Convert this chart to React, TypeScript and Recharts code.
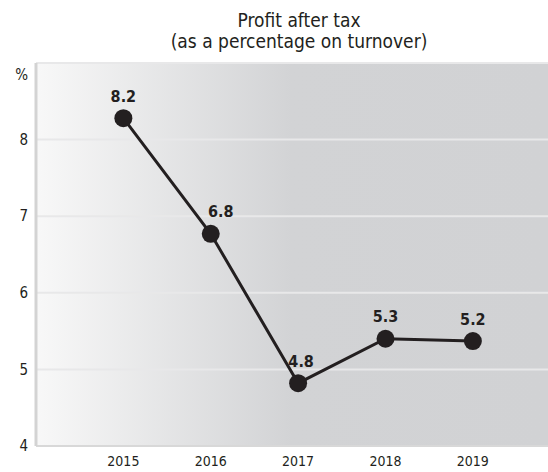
import React from 'react';
import { LineChart, Line, XAxis, YAxis, CartesianGrid } from 'recharts';

// Values as plotted and the printed labels
const years = [2015, 2016, 2017, 2018, 2019];
const profit = [8.28, 6.77, 4.82, 5.4, 5.37];
const profitLabels = ['8.2', '6.8', '4.8', '5.3', '5.2'];
const yTicks = [4, 5, 6, 7, 8, 9];

const INK = '#231f20';
const FONT = "'Liberation Sans Narrow', 'Arial Narrow', 'DejaVu Sans Condensed', sans-serif";

const data = years.map((year, i) => ({ year, value: profit[i] }));

const YTick = (props: any) => {
  const { x, y, payload } = props;
  const isTop = payload.value === 9;
  return (
    <text x={x} y={y + (isTop ? 12 : 0)} dy="0.35em" textAnchor="end" fill={INK} fontSize={15} fontFamily={FONT}>
      {isTop ? '%' : payload.value}
    </text>
  );
};

const XTick = (props: any) => {
  const { x, y, payload } = props;
  return (
    <text x={x} y={y + 14} textAnchor="middle" fill={INK} fontSize={14} fontFamily={FONT}>
      {payload.value}
    </text>
  );
};

const PointLabel = (props: any) => {
  const { x, y, index } = props;
  // the 2016 label sits a little to the right of its dot
  const dx = index === 1 ? 10 : index === 2 ? 3 : 0;
  return (
    <text x={x + dx} y={y - 22} dy="0.35em" textAnchor="middle" fill={INK} fontSize={16} fontWeight="bold" fontFamily={FONT}>
      {profitLabels[index]}
    </text>
  );
};

export default function App() {
  return (
    <div style={{ position: 'relative', width: 548, height: 472, background: '#fff' }}>
      <style>{`body { margin: 0; }`}</style>
      <div
        style={{
          position: 'absolute',
          top: 10,
          left: 36,
          width: 526,
          textAlign: 'center',
          fontFamily: FONT,
          fontSize: 19,
          lineHeight: '21px',
          color: INK,
        }}
      >
        Profit after tax
        <br />
        (as a percentage on turnover)
      </div>
      <LineChart width={548} height={472} data={data} margin={{ top: 63, right: 0, bottom: 0, left: 0 }}>
        <defs>
          <linearGradient id="plotBg" x1="0" y1="0" x2="1" y2="0">
            <stop offset="0%" stopColor="#f8f8f8" />
            <stop offset="50%" stopColor="#d2d3d5" />
            <stop offset="100%" stopColor="#d1d2d4" />
          </linearGradient>
        </defs>
        <CartesianGrid vertical={false} fill="url(#plotBg)" stroke="#e8e8e9" strokeWidth={2} />
        <XAxis
          dataKey="year"
          type="number"
          domain={[2014, 2019.86]}
          ticks={years}
          height={26}
          tickLine={false}
          axisLine={{ stroke: '#d8d8d8', strokeWidth: 2 }}
          tick={<XTick />}
          tickMargin={0}
        />
        <YAxis
          type="number"
          domain={[4, 9]}
          ticks={yTicks}
          width={36}
          tickLine={false}
          axisLine={{ stroke: '#d3d3d3', strokeWidth: 3 }}
          tick={<YTick />}
          interval={0}
        />
        <Line
          type="linear"
          dataKey="value"
          stroke={INK}
          strokeWidth={3}
          dot={{ r: 9, fill: INK, stroke: INK, strokeWidth: 0 }}
          activeDot={false}
          label={<PointLabel />}
          isAnimationActive={false}
        />
      </LineChart>
    </div>
  );
}
